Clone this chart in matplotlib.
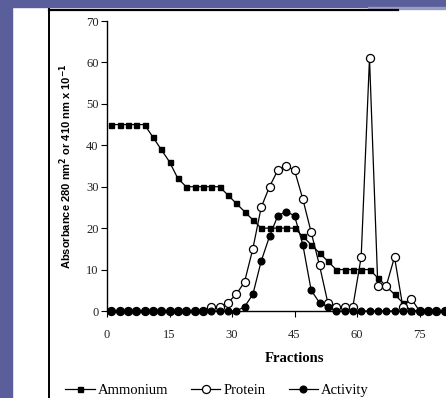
import matplotlib
matplotlib.use("Agg")
import matplotlib.pyplot as plt
from matplotlib.lines import Line2D
from matplotlib.patches import Rectangle

# fractions collected every second tube
fractions = list(range(1, 83, 2))

ammonium = [45, 45, 45, 45, 45, 42, 39, 36, 32, 30, 30, 30, 30, 30, 28, 26, 24, 22,
            20, 20, 20, 20, 20, 18, 16, 14, 12, 10, 10, 10, 10, 10, 8, 6, 4, 2,
            0, 0, 0, 0, 0]
protein = [0, 0, 0, 0, 0, 0, 0, 0, 0, 0, 0, 0, 1, 1, 2, 4, 7, 15,
           25, 30, 34, 35, 34, 27, 19, 11, 2, 1, 1, 1, 13, 61, 6, 6, 13, 1,
           3, 0, 0, 0, 0]
activity = [0, 0, 0, 0, 0, 0, 0, 0, 0, 0, 0, 0, 0, 0, 0, 0, 1, 4,
            12, 18, 23, 24, 23, 16, 5, 2, 1, 0, 0, 0, 0, 0, 0, 0, 0, 0,
            0, 0, 0, 0, 0]

x_ticks = [0, 15, 30, 45, 60, 75]
y_ticks = [0, 10, 20, 30, 40, 50, 60, 70]

W, H = 446, 398
PURPLE = "#5a5e9a"

fig = plt.figure(figsize=(W / 100, H / 100), dpi=100, facecolor="white")

# slide frame around the figure
fig.patches.append(Rectangle((0, 0), 12 / W, 1, transform=fig.transFigure,
                             color=PURPLE, zorder=0))
fig.patches.append(Rectangle((0, 1 - 7 / H), 1, 7 / H, transform=fig.transFigure,
                             color=PURPLE, zorder=0))
fig.patches.append(Rectangle((368 / W, 1 - 9 / H), 78 / W, 2 / H,
                             transform=fig.transFigure, color="#9a9cc4", zorder=0))
fig.lines.append(Line2D([49 / W, 49 / W], [0, 1 - 9 / H], transform=fig.transFigure,
                        color="black", lw=1.4))
fig.lines.append(Line2D([49 / W, 398 / W], [1 - 9.5 / H, 1 - 9.5 / H],
                        transform=fig.transFigure, color="black", lw=1.6))

ax = fig.add_axes([107 / W, 1 - 311 / H, 375 / W, 290 / H])

line_kw = dict(color="black", lw=0.9, clip_on=False)
ax.plot(fractions, ammonium, marker="s", ms=3.6, mfc="black", mec="black",
        label="Ammonium", zorder=3, **line_kw)
ax.plot(fractions, protein, marker="o", ms=5.8, mfc="white", mec="black", mew=0.9,
        label="Protein", zorder=4, **line_kw)
ax.plot(fractions, activity, marker="o", ms=4.8, mfc="black", mec="black",
        label="Activity", zorder=5, **line_kw)

ax.set_xlim(0, 90)
ax.set_ylim(0, 70)
ax.set_xticks(x_ticks)
ax.set_yticks(y_ticks)
ax.spines["top"].set_visible(False)
ax.spines["right"].set_visible(False)
for sp in ("left", "bottom"):
    ax.spines[sp].set_linewidth(1.0)

serif = "Liberation Serif"
ax.tick_params(axis="both", direction="out", length=4, width=0.8, labelsize=9)
ax.tick_params(axis="x", pad=9)
ax.tick_params(axis="y", pad=2)
for lbl in ax.get_xticklabels() + ax.get_yticklabels():
    lbl.set_fontfamily(serif)
    lbl.set_color("#222222")

ax.set_xlabel("Fractions", fontfamily=serif, fontweight="bold", fontsize=10.5,
              labelpad=8)
ax.set_ylabel("Absorbance 280 nm$^\\mathbf{2}$ or 410 nm x 10$^\\mathbf{-1}$",
              fontfamily="Liberation Sans", fontweight="bold", fontsize=8, labelpad=9)

fig.legend(ax.get_legend_handles_labels()[0], ax.get_legend_handles_labels()[1],
           loc="center", bbox_to_anchor=(217 / W, 1 - 390 / H), ncol=3,
           frameon=False, handlelength=2.0, handletextpad=0.2, columnspacing=1.6,
           prop={"family": serif, "size": 10.5})

fig.savefig("out.png", dpi=100, facecolor="white")
